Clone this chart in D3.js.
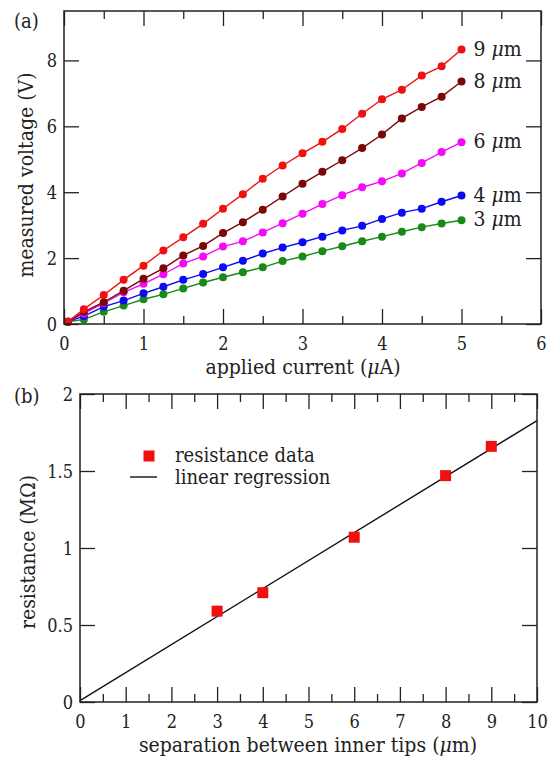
<!DOCTYPE html>
<html>
<head>
<meta charset="utf-8">
<script src="https://cdn.jsdelivr.net/npm/d3@7"></script>
<style>
  body { margin: 0; background: #fff; }
  svg { display: block; }
  text { font-family: "DejaVu Serif Condensed", "DejaVu Serif", serif; fill: #222; }
</style>
</head>
<body>
<div id="chart"></div>
<script>
// ---- data ----
var current = [0.05, 0.25, 0.5, 0.75, 1, 1.25, 1.5, 1.75, 2, 2.25, 2.5,
  2.75, 3, 3.25, 3.5, 3.75, 4, 4.25, 4.5, 4.75, 5];

var v3 = [0.07, 0.14, 0.37, 0.56, 0.75, 0.90, 1.08, 1.26, 1.42, 1.57, 1.72,
  1.91, 2.05, 2.21, 2.36, 2.51, 2.65, 2.80, 2.94, 3.05, 3.15];
var v4 = [0.07, 0.24, 0.53, 0.71, 0.93, 1.13, 1.34, 1.52, 1.72, 1.92, 2.14,
  2.32, 2.48, 2.65, 2.84, 2.98, 3.19, 3.38, 3.50, 3.71, 3.90];
var v6 = [0.07, 0.32, 0.63, 0.96, 1.22, 1.51, 1.84, 2.05, 2.35, 2.51, 2.78,
  3.06, 3.35, 3.64, 3.91, 4.15, 4.33, 4.57, 4.89, 5.22, 5.52];
var v8 = [0.07, 0.37, 0.66, 1.01, 1.37, 1.69, 2.08, 2.37, 2.76, 3.09, 3.47,
  3.87, 4.26, 4.62, 4.97, 5.34, 5.75, 6.24, 6.59, 6.90, 7.36];
var v9 = [0.07, 0.45, 0.88, 1.34, 1.77, 2.23, 2.63, 3.04, 3.50, 3.94, 4.41,
  4.81, 5.18, 5.53, 5.92, 6.38, 6.82, 7.11, 7.54, 7.82, 8.33];

var seriesNames = ["3", "4", "6", "8", "9"];
var seriesValues = [v3, v4, v6, v8, v9];
var seriesColors = ["#178a17", "#0a0af5", "#f50af5", "#7a0606", "#f01010"];

var separation = [3, 4, 6, 8, 9];
var resistance = [0.59, 0.71, 1.07, 1.47, 1.66];

var xTicksA = [0, 1, 2, 3, 4, 5, 6];
var yTicksA = [0, 2, 4, 6, 8];
var xTicksB = [0, 1, 2, 3, 4, 5, 6, 7, 8, 9, 10];
var yTicksB = [0, 0.5, 1, 1.5, 2];

// ---- canvas ----
var width = 556, height = 760;
var svg = d3.select("#chart").append("svg")
  .attr("width", width)
  .attr("height", height);

var majorLen = 15, minorLen = 8;

// draws the framed box with inward ticks on all four sides
function drawFrame(x, y, xTicks, yTicks, xMinor, yFmt) {
  var g = svg.append("g");
  var x0 = x.range()[0], x1 = x.range()[1];
  var y0 = y.range()[0], y1 = y.range()[1];

  // bottom
  g.append("g").attr("transform", "translate(0," + y0 + ")")
    .call(d3.axisBottom(x).tickValues(xTicks).tickSize(-majorLen).tickPadding(0).tickFormat(d3.format("d")))
    .call(function (a) {
      a.selectAll("text").attr("y", 26).attr("dy", 0).style("font-size", "18px");
    });
  g.append("g").attr("transform", "translate(0," + y0 + ")")
    .call(d3.axisBottom(x).tickValues(xMinor).tickSize(-minorLen).tickFormat(""));
  // top
  g.append("g").attr("transform", "translate(0," + y1 + ")")
    .call(d3.axisTop(x).tickValues(xTicks).tickSize(-majorLen).tickFormat(""));
  g.append("g").attr("transform", "translate(0," + y1 + ")")
    .call(d3.axisTop(x).tickValues(xMinor).tickSize(-minorLen).tickFormat(""));
  // left
  g.append("g").attr("transform", "translate(" + x0 + ",0)")
    .call(d3.axisLeft(y).tickValues(yTicks).tickSize(-majorLen).tickPadding(0).tickFormat(yFmt))
    .call(function (a) {
      a.selectAll("text").attr("x", -7).attr("dy", "0.36em").style("font-size", "18px");
    });
  // right
  g.append("g").attr("transform", "translate(" + x1 + ",0)")
    .call(d3.axisRight(y).tickValues(yTicks).tickSize(-majorLen).tickFormat(""));

  g.selectAll(".domain").remove();
  g.selectAll("g").attr("font-family", null);
  g.selectAll(".tick line").attr("stroke", "#222").attr("stroke-width", 1.3);
  g.selectAll(".tick text").attr("fill", "#222");

  g.append("rect")
    .attr("x", x0).attr("y", y1)
    .attr("width", x1 - x0).attr("height", y0 - y1)
    .attr("fill", "none").attr("stroke", "#222").attr("stroke-width", 1.5);
  return g;
}

function muLabel(sel, before, after) {
  sel.append("tspan").text(before);
  sel.append("tspan").attr("font-style", "italic").text("\u03bc");
  sel.append("tspan").text(after);
}

// ======== Panel (a) ========
var xA = d3.scaleLinear().domain([0, 6]).range([64, 541]);
var yA = d3.scaleLinear().domain([0, 9.5]).range([324, 11]);

var line = d3.line()
  .x(function (d, i) { return xA(current[i]); })
  .y(function (d) { return yA(d); });

var plotA = svg.append("g");
seriesValues.forEach(function (vals, s) {
  plotA.append("path")
    .datum(vals)
    .attr("d", line)
    .attr("fill", "none")
    .attr("stroke", seriesColors[s])
    .attr("stroke-width", 1.4);
  plotA.selectAll(".dot" + s)
    .data(vals)
    .enter().append("circle")
    .attr("cx", function (d, i) { return xA(current[i]); })
    .attr("cy", function (d) { return yA(d); })
    .attr("r", 4)
    .attr("fill", seriesColors[s]);
  var last = vals[vals.length - 1];
  plotA.append("text")
    .attr("x", xA(5) + 12)
    .attr("y", yA(last) + 6)
    .style("font-size", "21px")
    .call(muLabel, seriesNames[s] + " ", "m");
});

drawFrame(xA, yA, xTicksA, yTicksA, [0.5, 1.5, 2.5, 3.5, 4.5, 5.5], d3.format("d"));

svg.append("text").attr("x", 303).attr("y", 374)
  .attr("text-anchor", "middle").style("font-size", "21px")
  .call(muLabel, "applied current (", "A)");

svg.append("text")
  .attr("transform", "translate(33,175) rotate(-90)")
  .attr("text-anchor", "middle").style("font-size", "21px")
  .text("measured voltage (V)");

svg.append("text").attr("x", 14).attr("y", 28)
  .style("font-size", "20px").text("(a)");

// ======== Panel (b) ========
var xB = d3.scaleLinear().domain([0, 10]).range([80, 537]);
var yB = d3.scaleLinear().domain([0, 2]).range([702, 394]);

// least-squares fit of the resistance data
var mx = d3.mean(separation), my = d3.mean(resistance);
var sxy = d3.sum(separation, function (d, i) { return (d - mx) * (resistance[i] - my); });
var sxx = d3.sum(separation, function (d) { return (d - mx) * (d - mx); });
var slope = sxy / sxx, intercept = my - slope * mx;

var plotB = svg.append("g");
plotB.append("line")
  .attr("x1", xB(0)).attr("y1", yB(intercept))
  .attr("x2", xB(10)).attr("y2", yB(intercept + slope * 10))
  .attr("stroke", "#111").attr("stroke-width", 1.4);

var sq = 11;
plotB.selectAll(".sq")
  .data(separation)
  .enter().append("rect")
  .attr("x", function (d) { return xB(d) - sq / 2; })
  .attr("y", function (d, i) { return yB(resistance[i]) - sq / 2; })
  .attr("width", sq).attr("height", sq)
  .attr("fill", "#f01010");

drawFrame(xB, yB, xTicksB, yTicksB, [0.5, 1.5, 2.5, 3.5, 4.5, 5.5, 6.5, 7.5, 8.5, 9.5],
  function (d) { return d3.format("")(d); });

// legend
var legend = svg.append("g");
legend.append("rect").attr("x", 149 - sq / 2).attr("y", 456 - sq / 2)
  .attr("width", sq).attr("height", sq).attr("fill", "#f01010");
legend.append("text").attr("x", 175).attr("y", 462)
  .style("font-size", "20px").text("resistance data");
legend.append("line").attr("x1", 130).attr("x2", 157).attr("y1", 477).attr("y2", 477)
  .attr("stroke", "#111").attr("stroke-width", 1.4);
legend.append("text").attr("x", 175).attr("y", 484)
  .style("font-size", "20px").text("linear regression");

svg.append("text").attr("x", 308).attr("y", 752)
  .attr("text-anchor", "middle").style("font-size", "21px")
  .call(muLabel, "separation between inner tips (", "m)");

svg.append("text")
  .attr("transform", "translate(35,552) rotate(-90)")
  .attr("text-anchor", "middle").style("font-size", "21px")
  .text("resistance (M\u03a9)");

svg.append("text").attr("x", 14).attr("y", 403)
  .style("font-size", "20px").text("(b)");
</script>
</body>
</html>
